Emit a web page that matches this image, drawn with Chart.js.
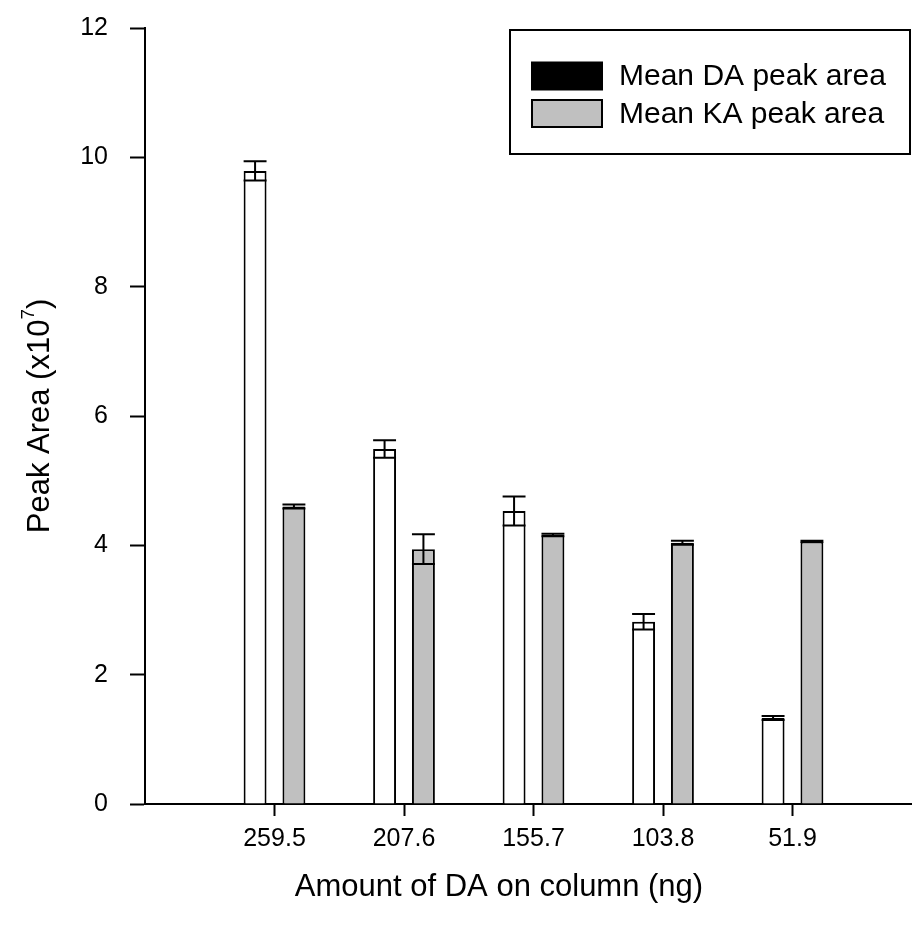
<!DOCTYPE html>
<html>
<head>
<meta charset="utf-8">
<script src="https://cdn.jsdelivr.net/npm/chart.js@4.4.1/dist/chart.umd.min.js"></script>
<style>
  html, body { margin: 0; padding: 0; background: #fff; overflow: hidden; }
  #wrap { width: 912px; height: 934px; }
</style>
</head>
<body>
<div id="wrap"><canvas id="chart" width="912" height="934"></canvas></div>
<script>
// amounts of DA loaded on column (ng)
const categories = ["259.5", "207.6", "155.7", "103.8", "51.9"];
// mean peak areas, x10^7
const daMean = [9.79, 5.49, 4.53, 2.82, 1.33];
const daErr = [0.15, 0.135, 0.225, 0.12, 0.03];
const kaMean = [4.6, 3.94, 4.16, 4.04, 4.06];
const kaErr = [0.03, 0.23, 0.02, 0.03, 0.01];
const yTicks = [0, 2, 4, 6, 8, 10, 12];
const legendLabels = ["Mean DA peak area", "Mean KA peak area"];

const FONT = "'Liberation Sans', Arial, sans-serif";
const KA_GREY = "#c0c0c0";

// error bars with caps as wide as the bar
const errorBars = {
  id: "errorBars",
  afterDatasetsDraw(chart) {
    const ctx = chart.ctx;
    const y = chart.scales.y;
    ctx.save();
    ctx.strokeStyle = "#000";
    ctx.lineWidth = 2;
    chart.data.datasets.forEach((ds, i) => {
      const meta = chart.getDatasetMeta(i);
      meta.data.forEach((bar, j) => {
        const m = ds.data[j].y, e = ds.err[j];
        const top = y.getPixelForValue(m + e);
        const bot = y.getPixelForValue(m - e);
        const half = bar.width / 2;
        ctx.beginPath();
        ctx.moveTo(bar.x, top); ctx.lineTo(bar.x, bot);
        ctx.moveTo(bar.x - half, top); ctx.lineTo(bar.x + half, top);
        ctx.moveTo(bar.x - half, bot); ctx.lineTo(bar.x + half, bot);
        ctx.stroke();
      });
    });
    ctx.restore();
  }
};

// axis titles (y title has a superscript exponent) and boxed legend
const decorations = {
  id: "decorations",
  afterDraw(chart) {
    const ctx = chart.ctx;
    const area = chart.chartArea;
    ctx.save();
    ctx.fillStyle = "#000";
    ctx.textBaseline = "middle";

    // x title
    ctx.font = "31px " + FONT;
    ctx.textAlign = "center";
    ctx.fillText("Amount of DA on column (ng)", 499, 887);

    // y title, rotated
    const main = "Peak Area (x10", sup = "7", close = ")";
    ctx.translate(40, (area.top + area.bottom) / 2);
    ctx.rotate(-Math.PI / 2);
    ctx.font = "31px " + FONT;
    const w1 = ctx.measureText(main).width;
    const w3 = ctx.measureText(close).width;
    ctx.font = "19px " + FONT;
    const w2 = ctx.measureText(sup).width;
    const start = -(w1 + w2 + w3) / 2;
    ctx.textAlign = "left";
    ctx.font = "31px " + FONT;
    ctx.fillText(main, start, 0);
    ctx.font = "19px " + FONT;
    ctx.fillText(sup, start + w1, -11);
    ctx.font = "31px " + FONT;
    ctx.fillText(close, start + w1 + w2, 0);
    ctx.setTransform(1, 0, 0, 1, 0, 0);

    // legend
    const bx = 510, by = 30, bw = 400, bh = 124;
    ctx.lineWidth = 2;
    ctx.strokeStyle = "#000";
    ctx.strokeRect(bx, by, bw, bh);
    const fills = ["#000", KA_GREY];
    const rows = [76, 113.5];
    ctx.font = "30px " + FONT;
    ctx.textAlign = "left";
    legendLabels.forEach((lab, i) => {
      ctx.fillStyle = fills[i];
      ctx.fillRect(532, rows[i] - 13.5, 70, 27);
      ctx.strokeRect(532, rows[i] - 13.5, 70, 27);
      ctx.fillStyle = "#000";
      ctx.fillText(lab, 619, rows[i] + 1);
    });
    ctx.restore();
  }
};

const unit = 129.5; // pixels between category positions

new Chart(document.getElementById("chart"), {
  type: "bar",
  data: {
    datasets: [
      {
        label: legendLabels[0],
        data: daMean.map((v, i) => ({ x: i + 1, y: v })),
        err: daErr,
        backgroundColor: "#fff",
        borderColor: "#000",
        borderWidth: 2
      },
      {
        label: legendLabels[1],
        data: kaMean.map((v, i) => ({ x: i + 1, y: v })),
        err: kaErr,
        backgroundColor: KA_GREY,
        borderColor: "#000",
        borderWidth: 2
      }
    ]
  },
  options: {
    responsive: false,
    animation: false,
    categoryPercentage: 0.6,
    barPercentage: 0.59,
    layout: { padding: { top: 28, right: 0, left: 0, bottom: 0 } },
    plugins: {
      legend: { display: false },
      tooltip: { enabled: false }
    },
    scales: {
      x: {
        type: "linear",
        offset: false,
        min: 0,
        max: 767 / unit,
        afterBuildTicks: (s) => { s.ticks = categories.map((c, i) => ({ value: i + 1 })); },
        afterFit: (s) => { s.height = 130; s.paddingLeft = 0; s.paddingRight = 0; },
        ticks: {
          callback: (v) => categories[v - 1],
          color: "#000",
          font: { family: FONT, size: 25 },
          padding: 8,
          maxRotation: 0,
          autoSkip: false
        },
        grid: { offset: false, drawOnChartArea: false, drawTicks: true, tickLength: 12, tickColor: "#000", tickWidth: 2 },
        border: { display: true, color: "#000", width: 2 }
      },
      y: {
        min: 0,
        max: 12,
        afterBuildTicks: (s) => { s.ticks = yTicks.map((v) => ({ value: v })); },
        afterFit: (s) => { s.width = 145; s.paddingTop = 0; s.paddingBottom = 0; },
        ticks: {
          color: "#000",
          font: { family: FONT, size: 25 },
          padding: 22
        },
        grid: { drawOnChartArea: false, drawTicks: true, tickLength: 15, tickColor: "#000", tickWidth: 2 },
        border: { display: true, color: "#000", width: 2 }
      }
    }
  },
  plugins: [errorBars, decorations]
});
</script>
</body>
</html>
